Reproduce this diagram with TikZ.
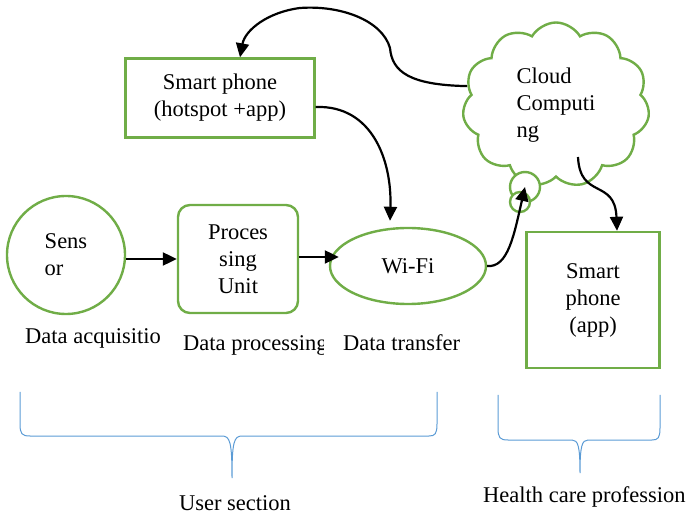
\documentclass[tikz,border=0pt]{standalone}
\usepackage{fontspec}
\setmainfont{Liberation Serif}
\usepackage{xcolor}
\usepackage{tikz}
\usetikzlibrary{arrows.meta,positioning,shapes.geometric,shapes.symbols}
\definecolor{boxgreen}{RGB}{112,173,71}
\definecolor{braceblue}{RGB}{91,155,213}
\newcommand{\dfont}{\fontsize{22.5}{27}\selectfont}
\tikzset{
  unit/.style={rectangle, draw=boxgreen, line width=2.4pt, fill=white, align=center, font=\dfont, inner sep=2pt},
  sensnode/.style={circle, draw=boxgreen, line width=2.4pt, fill=white, align=left, font=\dfont, minimum size=118pt, inner sep=0pt},
  link/.style={ellipse, draw=boxgreen, line width=2.4pt, fill=white, font=\dfont, minimum width=156pt, minimum height=76pt},
  puff/.style={cloud, cloud puffs=11, cloud puff arc=120, aspect=1.1, draw=boxgreen, line width=2.4pt, fill=white, align=left, font=\dfont, minimum width=187pt, minimum height=165pt, inner sep=0pt},
  bubble/.style={circle, draw=boxgreen, line width=2.4pt, fill=white, inner sep=0pt},
  caption/.style={font=\dfont, inner sep=0pt},
  flow/.style={-{Triangle[length=14pt,width=13pt]}, line width=2.2pt, draw=black},
  brace/.style={draw=braceblue, line width=1pt},
}
\begin{document}
\begin{tikzpicture}[x=1pt,y=-1pt]
  \useasboundingbox (0,0) rectangle (688,518);
  % user side
  \node[sensnode] (sensor) at (66,255) {Sens\\or};
  \node[unit, rounded corners=12pt, minimum width=120pt, minimum height=108pt] (proc) at (238,259) {Proces\\sing\\Unit};
  \node[link] (wifi) at (408,266) {Wi-Fi\hspace{22pt}};
  \node[unit, minimum width=189pt, minimum height=79pt] (hotspot) at (220,98) {Smart phone\\(hotspot +app)};
  % cloud side
  \node[puff] (cloud) at (556,105) {Cloud\\Computi\\ng\hspace{14pt}};
  \node[bubble, minimum size=30pt] (bub1) at (525,187) {};
  \node[bubble, minimum size=20pt] (bub2) at (520,202) {};
  \node[unit, minimum width=133pt, minimum height=136pt] (app) at (593,300) {Smart\\phone\\(app)};
  % arrows
  \draw[flow] (sensor.east |- proc.west) -- (proc.west);
  \draw[flow] ([yshift=2pt]proc.east) -- ([xshift=10pt,yshift=2pt]proc.east -| wifi.west);
  \draw[flow] (cloud.168) .. controls (410,85) and (392,72) .. (390,48)
    .. controls (382,20) and (340,5) .. (300,8)
    .. controls (268,12) and (245,30) .. ([xshift=20pt]hotspot.north);
  \draw[flow] ([yshift=-9pt]hotspot.east) .. controls (372,105) and (392,160) .. ([xshift=-18pt,yshift=6pt]wifi.north);
  \draw[flow] (wifi.east) .. controls (508,268) and (514,235) .. (bub1.center);
  \draw[flow] ([xshift=22pt,yshift=-52pt]cloud.center) .. controls (580,200) and (615,178) .. ([xshift=24pt]app.north);
  % stage captions
  \begin{scope}
    \clip (0,320) rectangle (160,360);
    \node[caption, anchor=west] (acq) at (25,338) {Data acquisition};
  \end{scope}
  \begin{scope}
    \clip (170,320) rectangle (323,365);
    \node[caption, anchor=west] (prc) at (183,345) {Data processing};
  \end{scope}
  \node[caption, anchor=west] (trf) at (343,343) {Data transfer};
  % braces
  \draw[brace] (20,392) -- (20,424) .. controls (20,434) and (22,436) .. (30,436) -- (222,436)
    .. controls (230,436) and (232,442) .. (232,478)
    .. controls (232,442) and (234,436) .. (242,436) -- (429,436)
    .. controls (435,436) and (437,434) .. (437,424) -- (437,392);
  \draw[brace] (498,395) -- (498,428) .. controls (498,438) and (500,440) .. (508,440) -- (572,440)
    .. controls (578,440) and (580,446) .. (580,473)
    .. controls (580,446) and (582,440) .. (588,440) -- (652,440)
    .. controls (658,440) and (660,438) .. (660,428) -- (660,395);
  \node[caption] (user) at (235,503) {User section};
  \node[caption, anchor=west] (health) at (483,497) {Health care profession};
\end{tikzpicture}
\end{document}
